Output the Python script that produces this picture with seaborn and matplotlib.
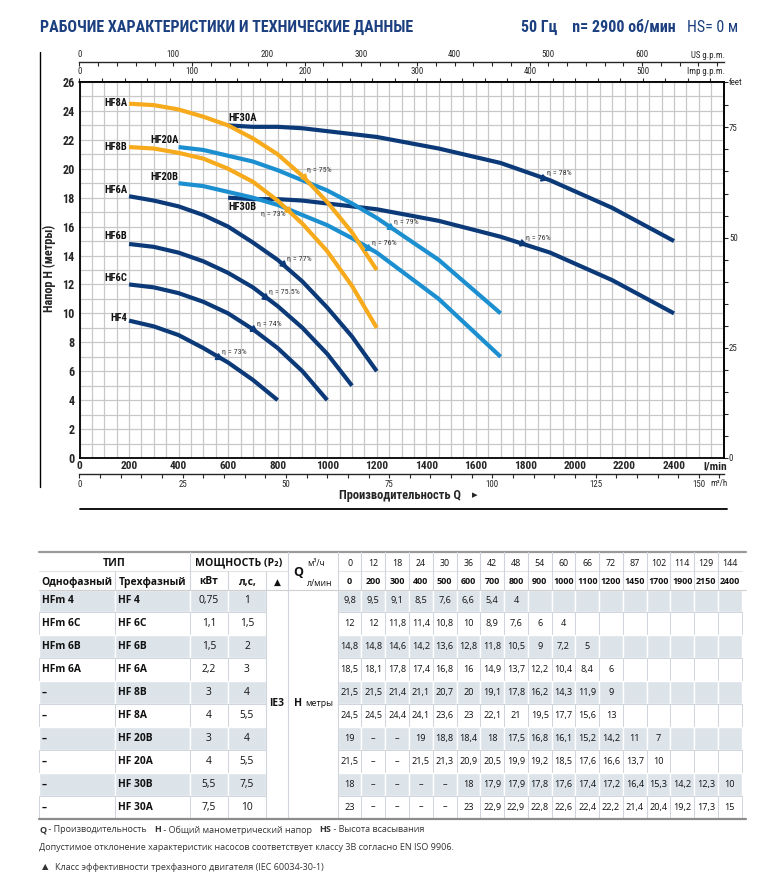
import numpy as np
import pandas as pd
import matplotlib
matplotlib.use('Agg')
import matplotlib.pyplot as plt
import seaborn as sns
from matplotlib import font_manager
from matplotlib.lines import Line2D
from matplotlib.patches import Rectangle

# ---------------- DATA ----------------
flow_m3h = [0, 12, 18, 24, 30, 36, 42, 48, 54, 60, 66, 72, 87, 102, 114, 129, 144]
flow_lmin = [0, 200, 300, 400, 500, 600, 700, 800, 900, 1000, 1100, 1200, 1450, 1700, 1900, 2150, 2400]
D = float('nan')   # "–" in the table

models = ['HF4', 'HF6C', 'HF6B', 'HF6A', 'HF8B', 'HF8A', 'HF20B', 'HF20A', 'HF30B', 'HF30A']
single_phase = ['HFm 4', 'HFm 6C', 'HFm 6B', 'HFm 6A', '–', '–', '–', '–', '–', '–']
three_phase = ['HF 4', 'HF 6C', 'HF 6B', 'HF 6A', 'HF 8B', 'HF 8A', 'HF 20B', 'HF 20A', 'HF 30B', 'HF 30A']
power_kw = ['0,75', '1,1', '1,5', '2,2', '3', '4', '3', '4', '5,5', '7,5']
power_hp = ['1', '1,5', '2', '3', '4', '5,5', '4', '5,5', '7,5', '10']

head_HF4 = [9.8, 9.5, 9.1, 8.5, 7.6, 6.6, 5.4, 4]
head_HF6C = [12, 12, 11.8, 11.4, 10.8, 10, 8.9, 7.6, 6, 4]
head_HF6B = [14.8, 14.8, 14.6, 14.2, 13.6, 12.8, 11.8, 10.5, 9, 7.2, 5]
head_HF6A = [18.5, 18.1, 17.8, 17.4, 16.8, 16, 14.9, 13.7, 12.2, 10.4, 8.4, 6]
head_HF8B = [21.5, 21.5, 21.4, 21.1, 20.7, 20, 19.1, 17.8, 16.2, 14.3, 11.9, 9]
head_HF8A = [24.5, 24.5, 24.4, 24.1, 23.6, 23, 22.1, 21, 19.5, 17.7, 15.6, 13]
head_HF20B = [19, D, D, 19, 18.8, 18.4, 18, 17.5, 16.8, 16.1, 15.2, 14.2, 11, 7]
head_HF20A = [21.5, D, D, 21.5, 21.3, 20.9, 20.5, 19.9, 19.2, 18.5, 17.6, 16.6, 13.7, 10]
head_HF30B = [18, D, D, D, D, 18, 17.9, 17.9, 17.8, 17.6, 17.4, 17.2, 16.4, 15.3, 14.2, 12.3, 10]
head_HF30A = [23, D, D, D, D, 23, 22.9, 22.9, 22.8, 22.6, 22.4, 22.2, 21.4, 20.4, 19.2, 17.3, 15]
heads = [head_HF4, head_HF6C, head_HF6B, head_HF6A, head_HF8B, head_HF8A,
         head_HF20B, head_HF20A, head_HF30B, head_HF30A]

eta_models = ['HF4', 'HF6C', 'HF6B', 'HF6A', 'HF8B', 'HF8A', 'HF20B', 'HF20A', 'HF30B', 'HF30A']
eta_flow = [560, 700, 750, 820, 840, 905, 1165, 1255, 1785, 1870]
eta_text = ['η = 73%', 'η = 74%', 'η = 75.5%', 'η = 77%', 'η = 73%', 'η = 75%',
            'η = 76%', 'η = 79%', 'η = 76%', 'η = 78%']

x_ticks_lmin = [0, 200, 400, 600, 800, 1000, 1200, 1400, 1600, 1800, 2000, 2200, 2400]
y_ticks_m = [0, 2, 4, 6, 8, 10, 12, 14, 16, 18, 20, 22, 24, 26]

title_text = 'РАБОЧИЕ ХАРАКТЕРИСТИКИ И ТЕХНИЧЕСКИЕ ДАННЫЕ'
header_right_bold = '50 Гц    n= 2900 об/мин'
header_right_norm = 'HS= 0 м'

# ---------------- STYLE ----------------
NAVY = '#0c3a78'
LBLUE = '#1b8fd0'
ORANGE = '#f6aa1c'
TITLE_C = '#1c3f80'
palette = {'HF4': NAVY, 'HF6C': NAVY, 'HF6B': NAVY, 'HF6A': NAVY, 'HF30B': NAVY, 'HF30A': NAVY,
           'HF20B': LBLUE, 'HF20A': LBLUE, 'HF8B': ORANGE, 'HF8A': ORANGE}
draw_order = ['HF4', 'HF6C', 'HF6B', 'HF6A', 'HF30B', 'HF30A', 'HF20B', 'HF20A', 'HF8B', 'HF8A']
label_style = {'HF8A': (-2, 1, 'right'), 'HF8B': (-2, 0, 'right'), 'HF6A': (-2, 6, 'right'),
               'HF6B': (-2, 8, 'right'), 'HF6C': (-2, 6, 'right'), 'HF4': (-2, 3, 'right'),
               'HF30A': (0, 7, 'left'), 'HF30B': (0, -9, 'left'), 'HF20A': (0, 7, 'right'),
               'HF20B': (0, 6, 'right')}
eta_style = {'HF8B': (-2, -4, 'right'), 'HF8A': (3, 7, 'left')}

sns.set_style('white')

def pick(names):
    avail = {f.name for f in font_manager.fontManager.ttflist}
    for n in names:
        if n in avail:
            return n
    return 'DejaVu Sans'

COND = pick(['Liberation Sans Narrow', 'Roboto Condensed', 'DejaVu Sans Condensed', 'Roboto', 'DejaVu Sans'])
TAB = pick(['Open Sans', 'Noto Sans', 'Lato', 'DejaVu Sans'])
plt.rcParams['font.family'] = [COND, 'DejaVu Sans']
plt.rcParams['axes.linewidth'] = 1.1

W, H = 767, 890
fig = plt.figure(figsize=(W / 100, H / 100), dpi=100)

def fx(px):
    return px / W

def fy(py):
    return 1 - py / H

# ---------------- CHART ----------------
left, right, top, bottom = 79.5, 723.6, 82, 458
ax = fig.add_axes([fx(left), fy(bottom), fx(right - left), (bottom - top) / H])

rows = []
for m, h in zip(models, heads):
    for q, v in zip(flow_lmin, h):
        if q > 0 and not np.isnan(v):
            rows.append({'model': m, 'flow': q, 'head': v})
df = pd.DataFrame(rows)

ax.set_axisbelow(True)
sns.lineplot(data=df, x='flow', y='head', hue='model', hue_order=draw_order, palette=palette,
             estimator=None, sort=False, linewidth=3.0, legend=False, ax=ax,
             solid_capstyle='butt', solid_joinstyle='round', zorder=3)

ax.set_xlim(0, 2600)
ax.set_ylim(0, 26)
ax.set_xticks(x_ticks_lmin)
ax.set_xticklabels([str(v) for v in x_ticks_lmin], fontweight='bold', fontsize=8.2)
ax.set_yticks(y_ticks_m)
ax.set_yticklabels([str(v) for v in y_ticks_m], fontweight='bold', fontsize=8.7)
ax.set_xticks(np.arange(0, 2601, 50), minor=True)
ax.set_yticks(np.arange(0, 27, 1), minor=True)
ax.grid(which='both', color='#c8c8c8', linewidth=0.9)
ax.tick_params(which='both', length=0)
ax.tick_params(axis='x', pad=2.5)
ax.tick_params(axis='y', pad=3.5)
ax.set_xlabel('')
ax.set_ylabel('')
for s in ax.spines.values():
    s.set_color('black')
    s.set_linewidth(1.3)

pxq = (right - left) / 2600.0
pxh = (bottom - top) / 26.0

curves = {}
for m in models:
    sub = df[df.model == m]
    curves[m] = (sub.flow.values.astype(float), sub['head'].values.astype(float))

for m in models:
    q, h = curves[m]
    dx, dy, ha = label_style[m]
    ax.annotate(m, xy=(q[0], h[0]), xytext=(dx, dy), textcoords='offset pixels',
                ha=ha, va='center', fontsize=7.6, fontweight='bold', color='#111111', zorder=5)

for m, qe, t in zip(eta_models, eta_flow, eta_text):
    q, h = curves[m]
    he = np.interp(qe, q, h)
    i = np.searchsorted(q, qe)
    i = min(max(i, 1), len(q) - 1)
    ang = np.degrees(np.arctan2((h[i] - h[i - 1]) * pxh, (q[i] - q[i - 1]) * pxq))
    ax.plot([qe], [he], marker=(3, 0, ang - 90), markersize=5.5, color=palette[m], zorder=4)
    dx, dy, ha = eta_style.get(m, (4, 5, 'left'))
    ax.annotate(t, xy=(qe, he), xytext=(dx, dy), textcoords='offset pixels', ha=ha, va='center',
                fontsize=5.8, color='#333333', zorder=5)

# top axes
imp = ax.secondary_xaxis('top', functions=(lambda q: q / 4.54609, lambda g: g * 4.54609))
imp_ticks = np.arange(0, 561, 20)
imp.set_xticks(imp_ticks)
imp.set_xticklabels([str(v) if v % 100 == 0 else '' for v in imp_ticks])
imp.tick_params(direction='out', length=2.8, width=0.8, labelsize=6.4, pad=1.5)

us = ax.secondary_xaxis(1 + 20 / (bottom - top), functions=(lambda q: q / 3.78541, lambda g: g * 3.78541))
us_ticks = np.arange(0, 681, 20)
us.set_xticks(us_ticks)
us.set_xticklabels([str(v) if v % 100 == 0 else '' for v in us_ticks])
us.tick_params(direction='in', length=2.8, width=0.8, labelsize=6.4, pad=2)
us.spines['top'].set_linewidth(1.0)

# bottom m3/h axis
m3 = ax.secondary_xaxis(-16 / (bottom - top), functions=(lambda q: q * 0.06, lambda v: v / 0.06))
m3_ticks = np.arange(0, 156, 5)
m3.set_xticks(m3_ticks)
m3.set_xticklabels([str(v) if (v % 25 == 0 and v <= 150) else '' for v in m3_ticks])
m3.tick_params(direction='out', length=2.8, width=0.8, labelsize=6.4, pad=1.5)
m3.spines['bottom'].set_linewidth(1.0)

# right feet axis
ft = ax.secondary_yaxis('right', functions=(lambda h: h * 3.28084, lambda f: f / 3.28084))
ft_ticks = list(np.arange(0, 81, 5)) + [26 * 3.28084]
ft.set_yticks(ft_ticks)
ft.set_yticklabels([str(int(v)) if v in (0, 25, 50, 75) else '' for v in ft_ticks[:-1]] + ['feet'])
ft.tick_params(direction='out', length=2.8, width=0.8, labelsize=6.4, pad=1)

# unit texts
fig.text(fx(725), fy(55), 'US g.p.m.', ha='right', va='center', fontsize=6.4)
fig.text(fx(725), fy(72), 'Imp g.p.m.', ha='right', va='center', fontsize=6.4)
fig.text(fx(727), fy(466), 'l/min', ha='right', va='center', fontsize=8.2, fontweight='bold')
fig.text(fx(728), fy(484), 'm³/h', ha='right', va='center', fontsize=6.4)
fig.text(fx(400), fy(495), 'Производительность Q', ha='center', va='center', fontsize=9,
         fontweight='bold')
fig.text(fx(472), fy(495), '▸', ha='left', va='center', fontsize=8, fontweight='bold',
         family=['DejaVu Sans'])
fig.text(fx(49), fy(268), 'Напор H (метры)', rotation=90, ha='center', va='center', fontsize=8.8,
         fontweight='bold')

# title
fig.text(fx(40), fy(27), title_text, ha='left', va='center', fontsize=11.5, fontweight='bold',
         color=TITLE_C)
fig.text(fx(676), fy(27), header_right_bold, ha='right', va='center', fontsize=11.5,
         fontweight='bold', color=TITLE_C)
fig.text(fx(687), fy(27), header_right_norm, ha='left', va='center', fontsize=11.5, color=TITLE_C)

# decorative lines
fig.add_artist(Line2D([fx(40), fx(40)], [fy(52), fy(487)], color='black', lw=1.0))
fig.add_artist(Line2D([fx(80), fx(727)], [fy(509), fy(509)], color='black', lw=1.3))

# ---------------- TABLE ----------------
tax = fig.add_axes([0, 0, 1, 1], zorder=-1)
tax.set_xlim(0, W)
tax.set_ylim(H, 0)
tax.axis('off')

SHADE = '#dce3e9'
GRID = '#cfd5da'
col_edges = [39, 115, 190, 228, 266, 288, 337.7]
ncol = len(flow_lmin)
cw = (741.7 - 337.7) / ncol
num_edges = [337.7 + i * cw for i in range(ncol + 1)]
edges = col_edges[:-1] + num_edges
row_top = 589.5
rh = 22.9
nrow = len(models)

def ttext(x, y, s, **kw):
    kw.setdefault('fontsize', 7.2)
    kw.setdefault('color', '#111111')
    kw.setdefault('ha', 'center')
    kw.setdefault('va', 'center')
    tax.text(x, y, s, family=[TAB, 'DejaVu Sans'], **kw)

tax.plot([39, 746], [552, 552], color='#9a9a9a', lw=1.6)
tax.plot([39, 288], [570.5, 570.5], color='#e3e3e3', lw=0.8)
tax.plot([337.7, 741.7], [570.5, 570.5], color='#e3e3e3', lw=0.8)
tax.plot([39, 746], [589.5, 589.5], color='#d0d0d0', lw=0.8)
for x in [190, 288, 337.7] + num_edges[1:-1]:
    tax.plot([x, x], [552, 589.5], color=GRID, lw=0.8)
for x in [115, 228, 266]:
    tax.plot([x, x], [570.5, 589.5], color=GRID, lw=0.8)

ttext((39 + 190) / 2, 563, 'ТИП', fontweight='bold', fontsize=7.6)
ttext((190 + 288) / 2, 563, 'МОЩНОСТЬ (P₂)', fontweight='bold', fontsize=7.6)
ttext(77, 582, 'Однофазный', fontweight='bold', fontsize=7.4)
ttext(152.5, 582, 'Трехфазный', fontweight='bold', fontsize=7.4)
ttext(209, 582, 'кВт', fontweight='bold', fontsize=7.4)
ttext(247, 582, 'л,с,', fontweight='bold', fontsize=7.4)
ttext(277, 582, '▲', fontsize=6.5)
ttext(298, 572, 'Q', fontweight='bold', fontsize=9)
ttext(307, 563, 'м³/ч', ha='left', fontsize=6.2)
ttext(307, 583, 'л/мин', ha='left', fontsize=6.2)
for j in range(ncol):
    cx = (num_edges[j] + num_edges[j + 1]) / 2
    ttext(cx, 563, str(flow_m3h[j]), fontsize=6.4)
    ttext(cx, 582, str(flow_lmin[j]), fontsize=6.4, fontweight='bold')

def fmt(v):
    if v is None:
        return ''
    if np.isnan(v):
        return '–'
    return f'{v:g}'.replace('.', ',')

for r in range(nrow):
    y0 = row_top + r * rh
    yc = y0 + rh / 2
    shaded = (r % 2 == 0)
    fc = SHADE if shaded else 'white'
    for c in range(len(edges) - 1):
        if c in (4, 5):
            continue
        x0, x1 = edges[c], edges[c + 1]
        tax.add_patch(Rectangle((x0, y0), x1 - x0, rh, facecolor=fc,
                                edgecolor='white' if shaded else GRID, lw=1.0 if shaded else 0.7))
    ttext(42, yc, single_phase[r], ha='left', fontweight='bold', fontsize=7.4)
    ttext(118, yc, three_phase[r], ha='left', fontweight='bold', fontsize=7.4)
    ttext(209, yc, power_kw[r], fontsize=7.4)
    ttext(247, yc, power_hp[r], fontsize=7.4)
    hv = heads[r]
    for j in range(ncol):
        v = hv[j] if j < len(hv) else None
        cx = (num_edges[j] + num_edges[j + 1]) / 2
        ttext(cx, yc, fmt(v), fontsize=6.6)

for x in [266, 288, 337.7]:
    tax.plot([x, x], [row_top, row_top + nrow * rh], color=GRID, lw=0.8)
tax.plot([39, 746], [row_top + nrow * rh, row_top + nrow * rh], color='#8c8c8c', lw=1.6)
ymid = row_top + 5 * rh
ttext(277, ymid, 'IE3', fontweight='bold', fontsize=7.4)
ttext(294, ymid, 'H', ha='left', fontweight='bold', fontsize=7.6)
ttext(305.5, ymid, 'метры', ha='left', fontsize=6.4)

def chain(parts, x, y):
    prev = None
    for s, bold in parts:
        kw = dict(fontsize=6.5, color='#333333', va='center', ha='left',
                  fontweight='bold' if bold else 'normal', family=[TAB, 'DejaVu Sans'])
        if prev is None:
            prev = tax.text(x, y, s, **kw)
        else:
            prev = tax.annotate(s, xy=(1, 0.5), xycoords=prev, xytext=(0, 0),
                                textcoords='offset pixels', **kw)

chain([('Q', True), (' - Производительность   ', False), ('H', True),
       (' - Общий манометрический напор   ', False), ('HS', True),
       (' - Высота всасывания', False)], 39, 830)
chain([('Допустимое отклонение характеристик насосов соответствует классу 3B согласно EN ISO 9906.',
        False)], 39, 847)
tax.text(45, 867, '▲', fontsize=6, color='#333333', va='center', ha='center',
         family=['DejaVu Sans'])
chain([('Класс эффективности трехфазного двигателя (IEC 60034-30-1)', False)], 55, 867)

fig.savefig('out.png', dpi=100)
